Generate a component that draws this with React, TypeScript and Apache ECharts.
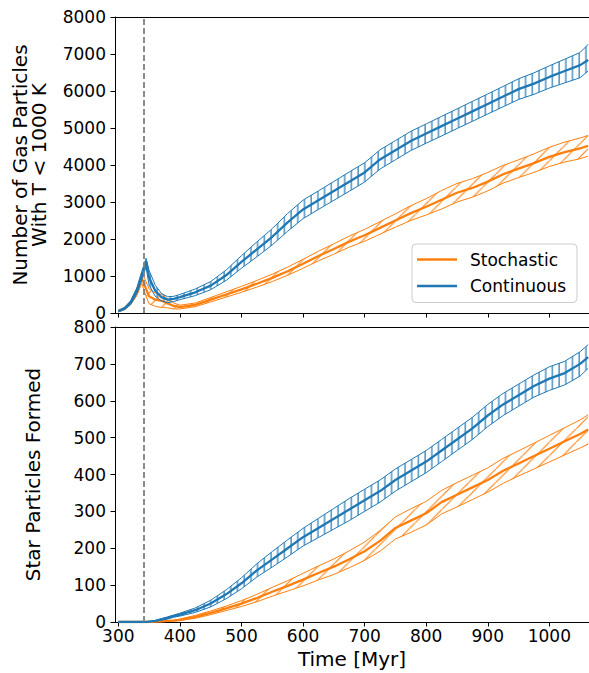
import React, { useEffect, useRef } from 'react';
import * as echarts from 'echarts';

// ---- data (Myr) ----
const TIME = [300, 310, 320, 330, 338, 345, 350, 360, 370, 380, 390, 400, 425, 450, 475, 500, 525, 550, 575, 600, 625, 650, 675, 700, 725, 750, 775, 800, 825, 850, 875, 900, 925, 950, 975, 1000, 1025, 1050, 1063];

// Gas particles with T < 1000 K
const GAS_CONT_MED = [50, 120, 280, 600, 1000, 1400, 950, 600, 430, 360, 380, 430, 560, 740, 1020, 1380, 1720, 2060, 2450, 2800, 3050, 3300, 3550, 3800, 4150, 4400, 4650, 4850, 5050, 5250, 5450, 5650, 5850, 6050, 6200, 6380, 6540, 6700, 6840];
const GAS_CONT_LO = [30, 90, 230, 520, 880, 1250, 750, 450, 330, 280, 310, 360, 470, 630, 880, 1210, 1520, 1840, 2210, 2550, 2800, 3045, 3290, 3540, 3890, 4140, 4390, 4590, 4785, 4985, 5180, 5380, 5575, 5770, 5910, 6080, 6220, 6360, 6540];
const GAS_CONT_HI = [70, 150, 330, 680, 1120, 1480, 1150, 750, 530, 440, 450, 500, 650, 850, 1160, 1550, 1920, 2280, 2690, 3050, 3300, 3555, 3810, 4060, 4410, 4660, 4910, 5110, 5315, 5515, 5720, 5920, 6125, 6330, 6490, 6680, 6860, 7040, 7260];

const GAS_STOCH_MED = [50, 120, 270, 550, 950, 650, 450, 360, 330, 260, 190, 160, 220, 360, 500, 640, 790, 950, 1130, 1330, 1540, 1730, 1930, 2100, 2300, 2500, 2700, 2870, 3060, 3250, 3380, 3550, 3750, 3900, 4050, 4220, 4350, 4450, 4520];
const GAS_STOCH_LO = [30, 90, 220, 470, 800, 450, 250, 180, 150, 140, 110, 110, 170, 300, 430, 560, 700, 850, 1020, 1210, 1410, 1590, 1780, 1940, 2130, 2320, 2500, 2650, 2810, 3000, 3130, 3300, 3510, 3660, 3800, 3960, 4080, 4170, 4240];
const GAS_STOCH_HI = [70, 150, 320, 630, 1100, 850, 650, 540, 510, 380, 270, 210, 270, 420, 570, 720, 880, 1050, 1240, 1450, 1670, 1870, 2080, 2260, 2470, 2680, 2900, 3090, 3310, 3500, 3630, 3800, 3990, 4140, 4300, 4480, 4620, 4730, 4800];

// Star particles formed
const STAR_CONT_MED = [0, 0, 0, 0, 0, 0, 1, 3, 7, 11, 16, 20, 32, 50, 75, 105, 140, 170, 200, 230, 255, 280, 305, 330, 355, 385, 410, 435, 465, 495, 525, 560, 590, 615, 640, 660, 675, 700, 718];
const STAR_CONT_LO = [0, 0, 0, 0, 0, 0, 1, 2, 5, 8, 13, 16, 26, 41, 63, 90, 122, 149, 177, 206, 229, 252, 275, 300, 325, 355, 380, 405, 435, 465, 495, 530, 560, 585, 610, 628, 643, 667, 688];
const STAR_CONT_HI = [0, 0, 0, 0, 0, 0, 1, 4, 9, 14, 19, 24, 38, 59, 87, 120, 158, 191, 223, 254, 281, 308, 335, 360, 385, 415, 440, 465, 495, 525, 555, 590, 620, 645, 670, 692, 707, 733, 752];

const STAR_STOCH_MED = [0, 0, 0, 0, 0, 0, 0, 1, 2, 3, 4, 6, 14, 25, 37, 50, 65, 82, 98, 115, 133, 150, 170, 192, 220, 255, 275, 295, 325, 345, 365, 385, 410, 430, 450, 470, 490, 510, 522];
const STAR_STOCH_LO = [0, 0, 0, 0, 0, 0, 0, 0, 1, 2, 3, 4, 10, 20, 31, 42, 55, 70, 84, 98, 114, 129, 147, 167, 192, 225, 243, 263, 293, 312, 332, 352, 376, 396, 415, 434, 453, 472, 482];
const STAR_STOCH_HI = [0, 0, 0, 0, 0, 0, 0, 2, 3, 4, 5, 8, 18, 30, 43, 58, 75, 94, 112, 132, 152, 171, 193, 217, 248, 285, 307, 327, 357, 378, 398, 418, 444, 464, 485, 506, 527, 548, 562];

const SN_TIME = 341;
const X_TICKS = [300, 400, 500, 600, 700, 800, 900, 1000];
const LEGEND_NAMES = ['Stochastic', 'Continuous'];

// ---- styles ----
const BLUE = '#1f77b4';
const ORANGE = '#ff7f0e';
const FONT = 'DejaVu Sans';

const svgUrl = (svg: string) => 'data:image/svg+xml;charset=utf-8,' + encodeURIComponent(svg);

const VS = 6.7;
const blueHatch = {
  image: svgUrl(
    `<svg xmlns="http://www.w3.org/2000/svg" width="${VS}" height="${VS}" viewBox="0 0 ${VS} ${VS}"><line x1="3" y1="-1" x2="3" y2="${VS + 1}" stroke="${BLUE}" stroke-width="1.2"/></svg>`
  ),
  repeat: 'repeat',
  imageWidth: VS,
  imageHeight: VS,
};
const DS = 13.4;
const orangeHatch = {
  image: svgUrl(
    `<svg xmlns="http://www.w3.org/2000/svg" width="${DS}" height="${DS}" viewBox="0 0 ${DS} ${DS}"><g stroke="${ORANGE}" stroke-width="1.1"><line x1="-1" y1="${DS + 1}" x2="${DS + 1}" y2="-1"/><line x1="-2" y1="1" x2="1" y2="-2"/><line x1="${DS - 1}" y1="${DS + 2}" x2="${DS + 2}" y2="${DS - 1}"/></g></svg>`
  ),
  repeat: 'repeat',
  imageWidth: DS,
  imageHeight: DS,
};

const plain = (v: number) => String(v);

function bandFill(lo: number[], hi: number[], pattern: any, g: number) {
  return {
    type: 'custom',
    name: 'fill' + g,
    xAxisIndex: g,
    yAxisIndex: g,
    clip: true,
    silent: true,
    data: TIME.map((t, i) => [t, lo[i], hi[i]]),
    encode: { x: 0, y: [1, 2] },
    renderItem: (params: any, api: any) => {
      if (params.dataIndex !== 0) return null;
      const upper = TIME.map((t, i) => api.coord([t, hi[i]]));
      const lower = TIME.map((t, i) => api.coord([t, lo[i]])).reverse();
      return {
        type: 'polygon',
        shape: { points: upper.concat(lower) },
        style: { fill: pattern, stroke: null },
      };
    },
  };
}

function edge(vals: number[], color: string, g: number, key: string) {
  return {
    type: 'line',
    name: key,
    xAxisIndex: g,
    yAxisIndex: g,
    data: TIME.map((t, i) => [t, vals[i]]),
    symbol: 'none',
    silent: true,
    color,
    lineStyle: { color, width: 1 },
  };
}

function median(vals: number[], color: string, g: number, name: string, withSN: boolean) {
  const s: any = {
    type: 'line',
    name,
    xAxisIndex: g,
    yAxisIndex: g,
    data: TIME.map((t, i) => [t, vals[i]]),
    symbol: 'none',
    silent: true,
    color,
    itemStyle: { color },
    lineStyle: { color, width: 2.3 },
  };
  if (withSN) {
    s.markLine = {
      silent: true,
      symbol: 'none',
      label: { show: false },
      lineStyle: { color: '#7f7f7f', type: [6, 3], width: 1.8 },
      data: [{ xAxis: SN_TIME }],
    };
  }
  return s;
}

const X_MIN = 294.6;
const X_MAX = 1064.4;

function xAxisBottom(g: number, labels: boolean) {
  return {
    type: 'value',
    gridIndex: g,
    min: X_MIN,
    max: X_MAX,
    position: 'bottom',
    axisLine: { show: true, onZero: false, lineStyle: { color: '#000', width: 1 } },
    axisTick: { show: true, length: 4.5, lineStyle: { color: '#000', width: 1 }, customValues: X_TICKS },
    axisLabel: {
      show: labels,
      fontSize: 17,
      fontFamily: FONT,
      color: '#000',
      margin: 5,
      customValues: X_TICKS,
      formatter: plain,
    },
    splitLine: { show: false },
    name: labels ? 'Time [Myr]' : '',
    nameLocation: 'middle',
    nameGap: 27,
    nameTextStyle: { fontSize: 20, fontFamily: FONT, color: '#000', verticalAlign: 'top' },
  };
}

function xAxisTop(g: number) {
  return {
    type: 'value',
    gridIndex: g,
    min: X_MIN,
    max: X_MAX,
    position: 'top',
    axisLine: { show: true, onZero: false, lineStyle: { color: '#000', width: 1 } },
    axisTick: { show: false },
    axisLabel: { show: false },
    splitLine: { show: false },
  };
}

function yAxis(g: number, max: number, interval: number, name: string, nameGap: number) {
  return {
    type: 'value',
    gridIndex: g,
    min: 0,
    max,
    interval,
    axisLine: { show: true, onZero: false, lineStyle: { color: '#000', width: 1 } },
    axisTick: { show: true, length: 4.5, lineStyle: { color: '#000', width: 1 } },
    axisLabel: { fontSize: 17, fontFamily: FONT, color: '#000', margin: 9, formatter: plain },
    splitLine: { show: false },
    name,
    nameLocation: 'middle',
    nameGap,
    nameRotate: 90,
    nameTextStyle: { fontSize: 20, fontFamily: FONT, color: '#000', lineHeight: 19 },
  };
}

export default function App() {
  const ref = useRef<HTMLDivElement>(null);
  useEffect(() => {
    if (!ref.current) return;
    const chart = echarts.init(ref.current, null, { renderer: 'svg' });
    chart.setOption({
      animation: false,
      backgroundColor: '#ffffff',
      textStyle: { fontFamily: FONT },
      grid: [
        { left: 115, right: -1, top: 17, height: 296 },
        { left: 115, right: -1, top: 327, height: 295 },
      ],
      xAxis: [xAxisBottom(0, false), xAxisBottom(1, true), xAxisTop(0), xAxisTop(1)],
      yAxis: [
        yAxis(0, 8000, 1000, 'Number of Gas Particles\nWith T < 1000 K', 67),
        yAxis(1, 800, 100, 'Star Particles Formed', 73),
      ],
      legend: {
        data: LEGEND_NAMES,
        left: 412,
        top: 244,
        orient: 'vertical',
        icon: 'rect',
        itemWidth: 40,
        itemHeight: 2.5,
        itemGap: 9.5,
        padding: [7, 11, 8, 5],
        borderColor: '#cccccc',
        borderWidth: 1,
        borderRadius: 4,
        backgroundColor: 'rgba(255,255,255,0.8)',
        selectedMode: false,
        textStyle: { fontSize: 17, fontFamily: FONT, color: '#000', padding: [0, 0, 0, 8] },
      },
      series: [
        bandFill(GAS_STOCH_LO, GAS_STOCH_HI, orangeHatch, 0),
        edge(GAS_STOCH_LO, ORANGE, 0, 'gs-lo'),
        edge(GAS_STOCH_HI, ORANGE, 0, 'gs-hi'),
        median(GAS_STOCH_MED, ORANGE, 0, 'Stochastic', false),
        bandFill(GAS_CONT_LO, GAS_CONT_HI, blueHatch, 0),
        edge(GAS_CONT_LO, BLUE, 0, 'gc-lo'),
        edge(GAS_CONT_HI, BLUE, 0, 'gc-hi'),
        median(GAS_CONT_MED, BLUE, 0, 'Continuous', true),
        bandFill(STAR_STOCH_LO, STAR_STOCH_HI, orangeHatch, 1),
        edge(STAR_STOCH_LO, ORANGE, 1, 'ss-lo'),
        edge(STAR_STOCH_HI, ORANGE, 1, 'ss-hi'),
        median(STAR_STOCH_MED, ORANGE, 1, 'Stochastic', false),
        bandFill(STAR_CONT_LO, STAR_CONT_HI, blueHatch, 1),
        edge(STAR_CONT_LO, BLUE, 1, 'sc-lo'),
        edge(STAR_CONT_HI, BLUE, 1, 'sc-hi'),
        median(STAR_CONT_MED, BLUE, 1, 'Continuous', true),
      ],
    });
    return () => chart.dispose();
  }, []);
  return (
    <div
      ref={ref}
      style={{ position: 'absolute', left: 0, top: 0, width: 589, height: 673, background: '#fff' }}
    />
  );
}
